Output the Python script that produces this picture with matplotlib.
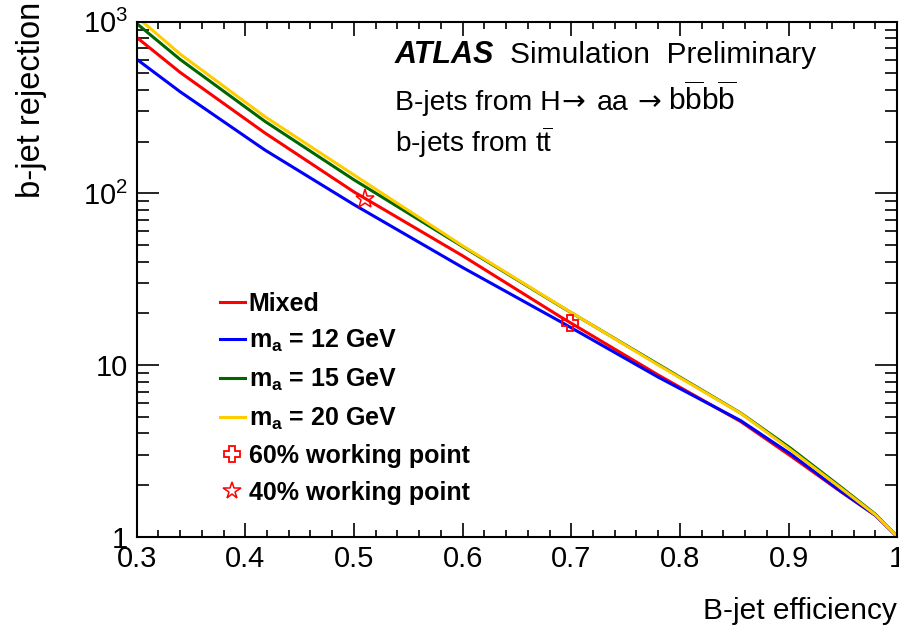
import numpy as np
import matplotlib
matplotlib.use("Agg")
from matplotlib import pyplot as plt
from matplotlib.ticker import MultipleLocator, FixedLocator, FixedFormatter, LogLocator, NullFormatter
from matplotlib.lines import Line2D

plt.rcParams['font.family'] = ['Liberation Sans', 'DejaVu Sans']
plt.rcParams['mathtext.fontset'] = 'custom'
plt.rcParams['mathtext.rm'] = 'Liberation Sans'
plt.rcParams['mathtext.it'] = 'Liberation Sans:italic'
plt.rcParams['mathtext.bf'] = 'Liberation Sans:bold'

# efficiency points
eff = [0.30, 0.34, 0.418, 0.50, 0.60, 0.69, 0.78, 0.856, 0.902, 0.948, 0.98, 1.00]

rej_mixed = [811, 507, 225, 102, 43.3, 19.1, 8.75, 4.68, 2.95, 1.83, 1.33, 1.0]
rej_12 = [605, 391, 179, 86, 37.0, 17.9, 8.5, 4.74, 3.03, 1.84, 1.33, 1.0]
rej_15 = [977, 603, 263, 120, 49.0, 22.0, 10.1, 5.25, 3.27, 1.95, 1.35, 1.0]
rej_20 = [1070, 648, 280, 128, 49.5, 22.1, 10.0, 5.23, 3.20, 1.92, 1.34, 1.0]

wp60 = (0.699, 17.5)
wp40 = (0.51, 92.3)

fig = plt.figure(figsize=(8.99, 6.26), dpi=100)
ax = fig.add_axes([0.152, 0.1427, 0.846, 0.8226])

ax.plot(eff, rej_mixed, color='#ff0000', lw=2.2)
ax.plot(eff, rej_12, color='#0000ff', lw=2.2)
ax.plot(eff, rej_15, color='#006600', lw=2.2)
ax.plot(eff, rej_20, color='#ffcc00', lw=2.2)
ax.plot([wp60[0]], [wp60[1]], marker='P', ms=11, mfc='none', mec='#ff0000', mew=1.3, ls='none')
ax.plot([wp40[0]], [wp40[1]], marker='*', ms=14, mfc='none', mec='#ff0000', mew=1.1, ls='none')

ax.set_xlim(0.3, 1.0)
ax.set_yscale('log')
ax.set_ylim(1, 1000)

ax.xaxis.set_major_locator(FixedLocator([0.3, 0.4, 0.5, 0.6, 0.7, 0.8, 0.9, 1.0]))
ax.xaxis.set_major_formatter(FixedFormatter(['0.3', '0.4', '0.5', '0.6', '0.7', '0.8', '0.9', '1']))
ax.xaxis.set_minor_locator(MultipleLocator(0.02))
ax.yaxis.set_major_locator(FixedLocator([1, 10, 100, 1000]))
ax.yaxis.set_major_formatter(FixedFormatter(['1', '10', '$10^2$', '$10^3$']))
ax.yaxis.set_minor_locator(LogLocator(base=10, subs=np.arange(2, 10)))
ax.yaxis.set_minor_formatter(NullFormatter())

ax.tick_params(axis='both', which='both', direction='in', top=True, right=True,
               labelsize=21, width=1.2, colors='black')
ax.tick_params(axis='x', which='major', length=10, pad=6)
ax.tick_params(axis='x', which='minor', length=5)
ax.tick_params(axis='y', which='major', length=16, pad=6)
ax.tick_params(axis='y', which='minor', length=8.4)
for s in ax.spines.values():
    s.set_linewidth(1.5)

ax.set_xlabel('B-jet efficiency', fontsize=21.5, loc='right')
ax.xaxis.set_label_coords(1.0, -0.117)
ax.set_ylabel('b-jet rejection', fontsize=23.5, loc='top')
ax.yaxis.set_label_coords(-0.118, 1.038)

# ATLAS label and process text
ax.text(0.3396, 0.919, 'ATLAS', transform=ax.transAxes, fontsize=22,
        fontweight='bold', fontstyle='italic', va='baseline')
ax.text(0.491, 0.919, 'Simulation  Preliminary', transform=ax.transAxes,
        fontsize=21.5, va='baseline')
ax.text(0.3396, 0.828, 'B-jets from H', transform=ax.transAxes, fontsize=20.4, va='baseline')
ax.text(0.559, 0.828, '\u2192', transform=ax.transAxes, fontsize=20.4, va='baseline',
        family='DejaVu Sans')
ax.text(0.605, 0.828, 'aa', transform=ax.transAxes, fontsize=20.4, va='baseline')
ax.text(0.659, 0.828, '\u2192', transform=ax.transAxes, fontsize=20.4, va='baseline',
        family='DejaVu Sans')
ax.text(0.699, 0.828, r'b$\overline{\mathrm{b}}$b$\overline{\mathrm{b}}$',
        transform=ax.transAxes, fontsize=21.5, va='baseline')
ax.text(0.3396, 0.7476, r'b-jets from t$\overline{\mathrm{t}}$', transform=ax.transAxes,
        fontsize=20.2, va='baseline')

handles = [
    Line2D([], [], color='#ff0000', lw=2.2),
    Line2D([], [], color='#0000ff', lw=2.2),
    Line2D([], [], color='#006600', lw=2.2),
    Line2D([], [], color='#ffcc00', lw=2.2),
    Line2D([], [], marker='P', ms=11, mfc='none', mec='#ff0000', mew=1.3, ls='none'),
    Line2D([], [], marker='*', ms=13, mfc='none', mec='#ff0000', mew=1.1, ls='none'),
]
labels = ['Mixed', r'$\mathbf{m_a}$ = 12 GeV', r'$\mathbf{m_a}$ = 15 GeV',
          r'$\mathbf{m_a}$ = 20 GeV', '60% working point', '40% working point']
leg = ax.legend(handles, labels, loc='upper left', bbox_to_anchor=(0.1095, 0.476),
                frameon=False, handlelength=1.0, handletextpad=0.15,
                labelspacing=0.5, borderpad=0, borderaxespad=0,
                prop={'size': 18, 'weight': 'bold'})

fig.savefig('out.png', dpi=100)
